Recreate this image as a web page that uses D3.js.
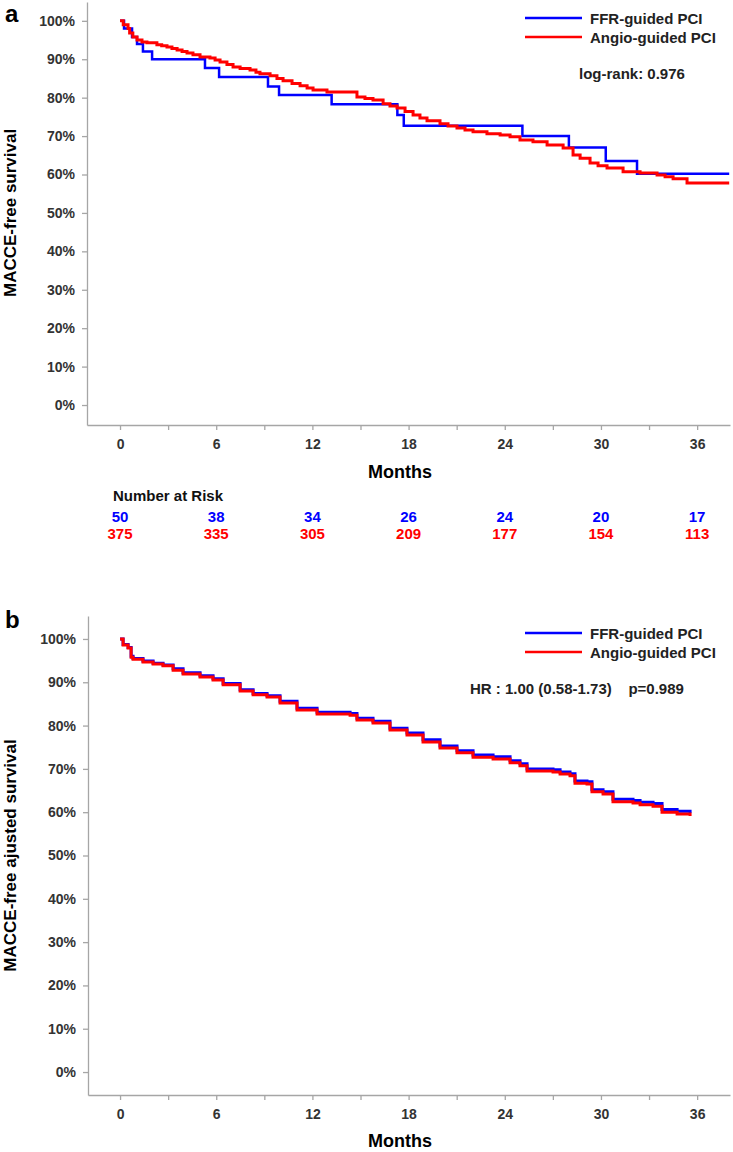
<!DOCTYPE html>
<html>
<head>
<meta charset="utf-8">
<script src="https://cdn.jsdelivr.net/npm/d3@7"></script>
<style>
  html, body { margin: 0; padding: 0; background: #fff; }
  svg { display: block; font-family: "Liberation Sans", Arial, sans-serif; }
</style>
</head>
<body>
<svg id="chart" width="733" height="1152"></svg>
<script>
// ---------- data ----------
const seriesNames = ["FFR-guided PCI", "Angio-guided PCI"];
const xTicks = [0, 3, 6, 9, 12, 15, 18, 21, 24, 27, 30, 33, 36];
const yTicks = [0, 0.1, 0.2, 0.3, 0.4, 0.5, 0.6, 0.7, 0.8, 0.9, 1.0];

// Panel a: Kaplan-Meier
const ffrTopMonths = [0, 0.25, 0.75, 1.06, 1.43, 2.0, 5.3, 6.18, 9.23, 9.92, 13.2, 17.3, 17.7, 25.1, 28.0, 30.3, 32.25, 38];
const ffrTopSurv   = [1.0, 0.98, 0.958, 0.94, 0.92, 0.90, 0.877, 0.854, 0.829, 0.807, 0.783, 0.755, 0.727, 0.70, 0.67, 0.635, 0.602, 0.602];

const angioTopMonths = [0, 0.2, 0.5, 0.6, 0.8, 1.06, 1.37, 1.68, 2.3, 2.6, 2.93, 3.24, 3.56, 3.87, 4.18, 4.55, 4.99, 5.61, 5.93, 6.24, 6.67, 7.05, 7.49, 8.11, 8.48, 8.73, 9.36, 9.79, 10.17, 10.73, 11.23, 11.67, 12.04, 12.91, 14.78, 15.28, 15.78, 16.41, 16.84, 17.28, 17.78, 18.28, 18.71, 19.15, 19.96, 20.46, 21.02, 21.52, 22.02, 22.89, 23.71, 24.33, 24.95, 25.76, 26.64, 27.64, 28.26, 28.7, 29.32, 29.82, 30.38, 31.38, 32.44, 33.5, 34.0, 34.5, 35.37, 38];
const angioTopSurv   = [1.0, 0.99, 0.98, 0.968, 0.958, 0.95, 0.945, 0.943, 0.938, 0.935, 0.932, 0.928, 0.924, 0.92, 0.916, 0.912, 0.906, 0.903, 0.898, 0.893, 0.886, 0.88, 0.876, 0.872, 0.866, 0.862, 0.857, 0.85, 0.844, 0.837, 0.831, 0.825, 0.82, 0.815, 0.802, 0.798, 0.794, 0.784, 0.778, 0.773, 0.764, 0.755, 0.747, 0.74, 0.732, 0.726, 0.721, 0.716, 0.711, 0.706, 0.703, 0.698, 0.69, 0.685, 0.677, 0.669, 0.651, 0.642, 0.63, 0.623, 0.617, 0.607, 0.604, 0.599, 0.594, 0.589, 0.578, 0.578];

const riskMonths = [0, 6, 12, 18, 24, 30, 36];
const ffrRisk   = [50, 38, 34, 26, 24, 20, 17];
const angioRisk = [375, 335, 305, 209, 177, 154, 113];

// Panel b: adjusted survival
const angioAdjMonths = [0, 0.19, 0.5, 0.69, 0.81, 1.43, 2.06, 2.68, 3.31, 3.93, 4.99, 5.8, 6.43, 7.49, 8.3, 9.17, 9.98, 11.04, 12.29, 14.35, 14.78, 15.78, 16.84, 17.9, 18.9, 19.96, 21.02, 22.02, 23.27, 24.33, 24.95, 25.39, 27.01, 27.45, 28.07, 28.38, 29.13, 29.44, 30.13, 30.75, 32.0, 32.44, 33.25, 33.81, 34.75, 35.56];
const angioAdjSurv   = [1.0, 0.986, 0.979, 0.958, 0.953, 0.947, 0.942, 0.938, 0.928, 0.919, 0.912, 0.905, 0.894, 0.88, 0.871, 0.866, 0.852, 0.836, 0.827, 0.824, 0.813, 0.806, 0.79, 0.778, 0.762, 0.748, 0.737, 0.727, 0.723, 0.714, 0.707, 0.695, 0.693, 0.688, 0.684, 0.667, 0.665, 0.647, 0.642, 0.624, 0.621, 0.617, 0.614, 0.60, 0.596, 0.591];
const ffrAdjMonths = [0, 0.19, 0.5, 0.69, 0.81, 1.43, 2.06, 2.68, 3.31, 3.93, 4.99, 5.8, 6.43, 7.49, 8.3, 9.17, 9.98, 11.04, 12.29, 14.35, 14.78, 15.78, 16.84, 17.9, 18.9, 19.96, 21.02, 22.02, 23.27, 24.33, 24.95, 25.39, 27.01, 27.45, 28.07, 28.38, 29.13, 29.44, 30.13, 30.75, 32.0, 32.44, 33.25, 33.81, 34.75, 35.56];
const ffrAdjSurv   = [1.0, 0.987, 0.98, 0.96, 0.955, 0.949, 0.944, 0.94, 0.931, 0.922, 0.915, 0.908, 0.897, 0.883, 0.874, 0.869, 0.856, 0.84, 0.831, 0.828, 0.817, 0.81, 0.794, 0.783, 0.767, 0.753, 0.742, 0.732, 0.728, 0.719, 0.712, 0.70, 0.698, 0.693, 0.689, 0.672, 0.67, 0.652, 0.647, 0.63, 0.627, 0.623, 0.62, 0.606, 0.602, 0.598];

const colors = ["#0000ff", "#ff0000"];

// ---------- drawing ----------
const svg = d3.select("#chart");
const axisColor = "#a6a6a6";
const tickTextColor = "#333";

function panel(cfg) {
  const g = svg.append("g");
  const x = d3.scaleLinear().domain([cfg.xMin, cfg.xMax]).range([cfg.left, 730]);
  const y = d3.scaleLinear().domain([cfg.yMin, cfg.yMax]).range([cfg.bottom, cfg.topY]);

  const ya = g.append("g").attr("transform", `translate(${cfg.left},0)`)
    .call(d3.axisLeft(y).tickValues(yTicks).tickFormat(d3.format(".0%")).tickSize(5).tickSizeOuter(0).tickPadding(7));
  const xa = g.append("g").attr("transform", `translate(0,${cfg.bottom})`)
    .call(d3.axisBottom(x).tickValues(xTicks).tickFormat(d => d % 6 === 0 ? d : "").tickSize(5).tickSizeOuter(0).tickPadding(9));
  [ya, xa].forEach(a => {
    a.select(".domain").attr("stroke", axisColor).attr("stroke-width", 1.3);
    a.selectAll(".tick line").attr("stroke", axisColor).attr("stroke-width", 1.3);
    a.selectAll(".tick text").attr("fill", tickTextColor).attr("font-size", 14).attr("font-weight", "bold")
      .attr("font-family", "'Liberation Sans', Arial, sans-serif");
  });

  g.append("text")
    .attr("transform", `translate(${cfg.yTitleX},${(y(0) + y(1)) / 2}) rotate(-90)`)
    .attr("text-anchor", "middle").attr("dominant-baseline", "central")
    .attr("font-size", 17).attr("font-weight", "bold").attr("fill", "#000")
    .text(cfg.yTitle);
  g.append("text")
    .attr("x", cfg.monthsX).attr("y", cfg.monthsY)
    .attr("text-anchor", "middle").attr("dominant-baseline", "central")
    .attr("font-size", 18).attr("font-weight", "bold").attr("fill", "#000")
    .text("Months");
  g.append("text").attr("x", 5).attr("y", cfg.labelY)
    .attr("font-size", 24).attr("font-weight", "bold").attr("fill", "#000")
    .text(cfg.label);

  const line = d3.line().x(d => x(d[0])).y(d => y(d[1])).curve(d3.curveStepAfter);
  cfg.series.forEach((s, i) => {
    const pts = s.months.map((m, j) => [m, s.surv[j]]);
    g.append("path").datum(pts)
      .attr("fill", "none").attr("stroke", colors[i])
      .attr("stroke-width", s.width)
      .attr("stroke-linejoin", "miter")
      .attr("d", line);
  });

  seriesNames.forEach((name, i) => {
    const ly = cfg.legendY + i * 19;
    g.append("line").attr("x1", 525).attr("x2", 582).attr("y1", ly).attr("y2", ly)
      .attr("stroke", colors[i]).attr("stroke-width", 2.5);
    g.append("text").attr("x", 590).attr("y", ly).attr("dominant-baseline", "central")
      .attr("font-size", 15).attr("font-weight", "bold").attr("fill", "#222")
      .text(name);
  });
  g.append("text").attr("x", cfg.statX).attr("y", cfg.statY)
    .attr("dominant-baseline", "central")
    .style("white-space", "pre")
    .attr("font-size", 15).attr("font-weight", "bold").attr("fill", "#222")
    .text(cfg.stat);

  return { g, x, y };
}

const panelA = panel({
  left: 87, topY: 2, bottom: 425, xMin: -2.06, xMax: 38.05, yMin: -0.052, yMax: 1.049,
  yTitle: "MACCE-free survival", yTitleX: 10, monthsX: 400, monthsY: 472,
  label: "a", labelY: 22, legendY: 18,
  stat: "log-rank: 0.976", statX: 579, statY: 73,
  series: [
    { months: ffrTopMonths, surv: ffrTopSurv, width: 2.5 },
    { months: angioTopMonths, surv: angioTopSurv, width: 3 }
  ]
});

panelA.g.append("text").attr("x", 113).attr("y", 495).attr("dominant-baseline", "central")
  .attr("font-size", 15).attr("font-weight", "bold").attr("fill", "#111").text("Number at Risk");
[ffrRisk, angioRisk].forEach((arr, i) => {
  panelA.g.selectAll(null).data(riskMonths).enter().append("text")
    .attr("x", d => panelA.x(d)).attr("y", 516 + i * 17)
    .attr("text-anchor", "middle").attr("dominant-baseline", "central")
    .attr("font-size", 15).attr("font-weight", "bold").attr("fill", colors[i])
    .text((d, j) => arr[j]);
});

const panelB = panel({
  left: 88, topY: 616, bottom: 1095, xMin: -2.0, xMax: 38.05, yMin: -0.053, yMax: 1.053,
  yTitle: "MACCE-free ajusted survival", yTitleX: 10, monthsX: 400, monthsY: 1141,
  label: "b", labelY: 628, legendY: 633,
  stat: "HR : 1.00 (0.58-1.73)    p=0.989", statX: 470, statY: 688,
  series: [
    { months: ffrAdjMonths, surv: ffrAdjSurv, width: 3 },
    { months: angioAdjMonths, surv: angioAdjSurv, width: 3 }
  ]
});
</script>
</body>
</html>
